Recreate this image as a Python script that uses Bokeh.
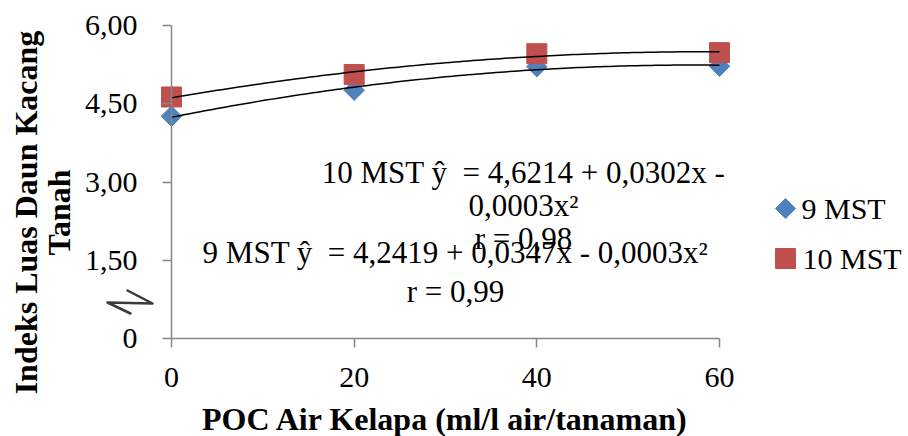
import numpy as np
from bokeh.plotting import figure
from bokeh.models import (Range1d, FixedTicker, Label, LinearAxis)
from bokeh.embed import file_html
from bokeh.resources import INLINE

# ---- data ----
doses = [0, 20, 40, 60]
mst9 = [4.26, 4.76, 5.21, 5.22]
mst10 = [4.63, 5.06, 5.46, 5.48]
series_names = ["9 MST", "10 MST"]
y_ticks = [0, 1.5, 3, 4.5, 6]
y_tick_labels = ["0", "1,50", "3,00", "4,50", "6,00"]
x_ticks = [0, 20, 40, 60]
eq10_lines = ["10 MST \u0177\u00a0 = 4,6214 + 0,0302x -", "0,0003x\u00b2", "r = 0,98"]
eq9_lines = ["9 MST \u0177\u00a0 = 4,2419 + 0,0347x - 0,0003x\u00b2", "r = 0,99"]
x_title = "POC Air Kelapa (ml/l air/tanaman)"
y_title = ["Indeks Luas Daun Kacang", "Tanah"]

# ---- layout constants (pixels) ----
W, H = 908, 436
X0PX, XPX = 171, 548 / 60.0     # pixel of x=0, px per unit
Y0PX, YPX = 338, 313 / 6.0      # pixel of y=0, px per unit

FONT = "Liberation Serif"
BLUE = "#4F81BD"
RED = "#C0504D"
AX = "#868686"


def px2x(px):
    return (px - X0PX) / XPX


def px2y(py):
    return (Y0PX - py) / YPX


p = figure(width=W, height=H, output_backend="svg", toolbar_location=None,
           x_range=Range1d(-X0PX / XPX, (W - X0PX) / XPX),
           y_range=Range1d(-(H - Y0PX) / YPX, Y0PX / YPX),
           x_axis_location=None, y_axis_location=None,
           min_border=0)
p.outline_line_color = None
p.xgrid.visible = False
p.ygrid.visible = False
p.background_fill_color = "white"
p.border_fill_color = "white"

xaxis = LinearAxis(fixed_location=0, bounds=(0, 60), ticker=FixedTicker(ticks=x_ticks))
yaxis = LinearAxis(fixed_location=0, bounds=(0, 6), ticker=FixedTicker(ticks=y_ticks))
yaxis.major_label_overrides = {t: s for t, s in zip(y_ticks, y_tick_labels)}
for ax in (xaxis, yaxis):
    ax.axis_line_color = AX
    ax.axis_line_width = 1.5
    ax.major_tick_line_color = AX
    ax.major_tick_line_width = 1.5
    ax.major_tick_out = 9
    ax.major_tick_in = 0
    ax.minor_tick_line_color = None
    ax.major_label_text_font = FONT
    ax.major_label_text_font_size = "30px"
    ax.major_label_text_color = "black"
xaxis.major_label_standoff = 20
yaxis.major_label_standoff = 25
p.add_layout(xaxis, "below")
p.add_layout(yaxis, "left")

# markers
p.scatter(doses, mst9, marker="square", size=14.5, angle=np.pi / 4,
          color=BLUE, line_color=BLUE)
p.scatter(doses, mst10, marker="square", size=20, color=RED, line_color=RED)

# polynomial trend lines fitted from the data
xf = np.linspace(0, 60, 121)
for ys in (mst9, mst10):
    c = np.polyfit(doses, ys, 2)
    p.line(xf, np.polyval(c, xf), line_color="black", line_width=1.5)


def lab(text, px, py, size="31px", bold=False, angle=0.0, align="center"):
    p.add_layout(Label(text=text, x=px2x(px), y=px2y(py), text_font=FONT,
                       text_font_size=size,
                       text_font_style="bold" if bold else "normal",
                       text_align=align, text_baseline="middle",
                       text_color="black", angle=angle))


# legend (keys drawn at fixed pixel positions on the right)
p.scatter([px2x(785)], [px2y(208)], marker="square", size=14.2, angle=np.pi / 4,
          color=BLUE, line_color=BLUE)
p.scatter([px2x(785)], [px2y(258)], marker="square", size=20,
          color=RED, line_color=RED)
lab(series_names[0], 801, 208, size="30px", align="left")
lab(series_names[1], 802, 258, size="30px", align="left")

# equation labels
for txt, py in zip(eq10_lines, [172, 205, 238]):
    lab(txt, 523, py)
for txt, py in zip(eq9_lines, [252, 291]):
    lab(txt, 455, py)

# axis titles
lab(x_title, 445, 418, size="32px", bold=True)
lab(y_title[0], 25, 212, size="32px", bold=True, angle=np.pi / 2)
lab(y_title[1], 58, 212, size="32px", bold=True, angle=np.pi / 2)

# axis break symbol (z-shaped stroke left of the y axis)
brk_px = [(127.0, 290.0), (152.0, 303.0), (107.0, 302.0), (130.0, 313.0)]
p.line([px2x(a) for a, _ in brk_px], [px2y(b) for _, b in brk_px],
       line_color="#3a3a3a", line_width=2.5, line_join="round", line_cap="round")

open("out.html", "w").write(file_html(p, INLINE))
